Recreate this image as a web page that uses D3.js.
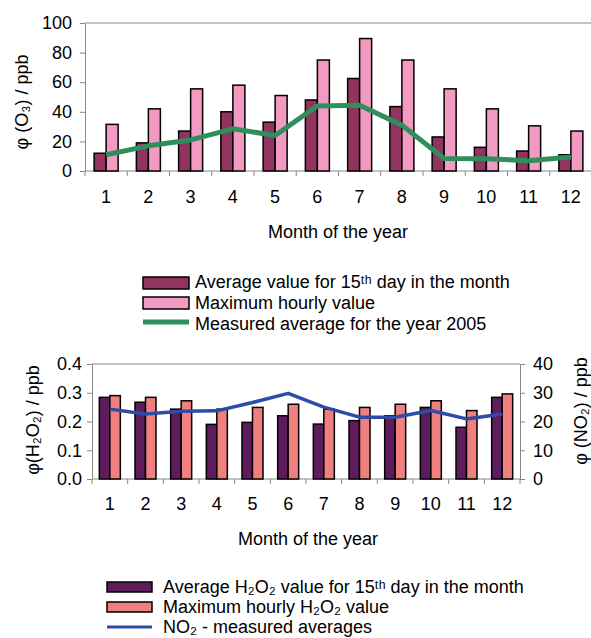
<!DOCTYPE html>
<html>
<head>
<meta charset="utf-8">
<script src="https://cdn.jsdelivr.net/npm/d3@7"></script>
<style>
  body { margin: 0; background: #fff; }
  svg { display: block; font-family: "Liberation Sans", Arial, sans-serif; }
  .tick text { font-size: 18px; fill: #000; }
  .domain, .tick line { stroke: #888; }
</style>
</head>
<body>
<svg id="chart" width="591" height="638"></svg>
<script>
// ── Data ─────────────────────────────────────────────────────────────────────
const months = [1, 2, 3, 4, 5, 6, 7, 8, 9, 10, 11, 12];

// Ozone (top panel)
const o3Avg15   = [12, 19, 27, 40, 33, 48, 62.5, 43.5, 23, 16, 13.5, 11];
const o3MaxHour = [31.5, 42, 55.5, 58, 51, 75, 89.5, 75, 55.5, 42, 30.5, 27];
const o3Year05  = [11, 17, 21, 28.5, 24, 44, 44.5, 31, 8.5, 8.3, 7, 9.5];
const o3Ticks   = [0, 20, 40, 60, 80, 100];

// H2O2 / NO2 (bottom panel)
const h2o2Avg15   = [0.284, 0.267, 0.243, 0.19, 0.197, 0.22, 0.191, 0.203, 0.22, 0.249, 0.18, 0.284];
const h2o2MaxHour = [0.29, 0.284, 0.272, 0.243, 0.249, 0.26, 0.243, 0.249, 0.26, 0.272, 0.238, 0.296];
const no2Avg      = [24.3, 22.6, 23.6, 23.7, 26.6, 29.8, 25, 21.5, 21.5, 23.8, 20.9, 22.6];
const h2o2Ticks   = [0, 0.1, 0.2, 0.3, 0.4];
const no2Ticks    = [0, 10, 20, 30, 40];

const C = {
  o3Avg: "#93335f", o3Max: "#f39ac3", o3Line: "#2e8f5d",
  hAvg: "#5e1c5f", hMax: "#f08080", no2: "#2f4ba6"
};
const FS = 18;

const svg = d3.select("#chart");

// ── Top panel: O3 ────────────────────────────────────────────────────────────
{
  const left = 85, right = 592, top = 23, bottom = 171;
  const x = d3.scaleBand().domain(months).range([left, right]);
  const bw = x.bandwidth();
  const xi = d3.scaleBand().domain(["avg", "max"]).range([bw / 2 - 12, bw / 2 + 12]);
  const y = d3.scaleLinear().domain([0, 100]).range([bottom, top]);
  const g = svg.append("g");

  // top border of plot area
  g.append("line").attr("x1", left).attr("x2", right).attr("y1", top).attr("y2", top)
    .attr("stroke", "#888");

  g.append("g").attr("transform", `translate(${left},0)`)
    .call(d3.axisLeft(y).tickValues(o3Ticks).tickSize(5).tickPadding(8).tickSizeOuter(0));

  // x axis with ticks between categories
  const xa = g.append("g").attr("transform", `translate(0,${bottom})`);
  xa.append("line").attr("x1", left).attr("x2", right).attr("stroke", "#888");
  xa.selectAll("line.tk").data(months).join("line").attr("class", "tk")
    .attr("x1", d => x(d)).attr("x2", d => x(d)).attr("y1", 0).attr("y2", 5).attr("stroke", "#888");
  xa.selectAll("text").data(months).join("text")
    .attr("x", d => x(d) + bw / 2).attr("y", 26).attr("text-anchor", "middle")
    .attr("dominant-baseline", "central").attr("font-size", FS).text(d => d);

  const mg = g.selectAll("g.m").data(months).join("g").attr("class", "m")
    .attr("transform", d => `translate(${x(d)},0)`);
  mg.append("rect").attr("x", xi("avg")).attr("width", xi.bandwidth())
    .attr("y", (d, i) => y(o3Avg15[i])).attr("height", (d, i) => bottom - y(o3Avg15[i]))
    .attr("fill", C.o3Avg).attr("stroke", "#000").attr("stroke-width", 1.5);
  mg.append("rect").attr("x", xi("max")).attr("width", xi.bandwidth())
    .attr("y", (d, i) => y(o3MaxHour[i])).attr("height", (d, i) => bottom - y(o3MaxHour[i]))
    .attr("fill", C.o3Max).attr("stroke", "#000").attr("stroke-width", 1.5);

  g.append("path").datum(o3Year05)
    .attr("fill", "none").attr("stroke", C.o3Line).attr("stroke-width", 5)
    .attr("stroke-linejoin", "round")
    .attr("d", d3.line().x((v, i) => x(months[i]) + bw / 2).y(v => y(v)));

  g.append("text").attr("x", 338).attr("y", 232).attr("text-anchor", "middle")
    .attr("dominant-baseline", "central").attr("font-size", FS).text("Month of the year");

  g.append("text").attr("transform", "translate(22,102) rotate(-90)")
    .attr("text-anchor", "middle").attr("dominant-baseline", "central").attr("font-size", FS)
    .text("φ (O₃) / ppb");

  // legend
  const lg = g.append("g").attr("transform", "translate(143,277)");
  lg.append("rect").attr("y", 0).attr("width", 46).attr("height", 12).attr("fill", C.o3Avg)
    .attr("stroke", "#000").attr("stroke-width", 1.5);
  lg.append("rect").attr("y", 20).attr("width", 46).attr("height", 12).attr("fill", C.o3Max)
    .attr("stroke", "#000").attr("stroke-width", 1.5);
  lg.append("line").attr("x1", 0).attr("x2", 46).attr("y1", 45).attr("y2", 45)
    .attr("stroke", C.o3Line).attr("stroke-width", 5);
  lg.append("text").attr("x", 52).attr("y", 5).attr("dominant-baseline", "central")
    .attr("font-size", FS).text("Average value for 15ᵗʰ day in the month");
  lg.append("text").attr("x", 52).attr("y", 26).attr("dominant-baseline", "central")
    .attr("font-size", FS).text("Maximum hourly value");
  lg.append("text").attr("x", 52).attr("y", 46.5).attr("dominant-baseline", "central")
    .attr("font-size", FS).text("Measured average for the year 2005");
}

// ── Bottom panel: H2O2 and NO2 ───────────────────────────────────────────────
{
  const left = 92, right = 520, top = 364, bottom = 479;
  const x = d3.scaleBand().domain(months).range([left, right]);
  const bw = x.bandwidth();
  const xi = d3.scaleBand().domain(["avg", "max"]).range([bw / 2 - 10.5, bw / 2 + 10.5]);
  const y = d3.scaleLinear().domain([0, 0.4]).range([bottom, top]);
  const y2 = d3.scaleLinear().domain([0, 40]).range([bottom, top]);
  const g = svg.append("g");

  g.append("line").attr("x1", left).attr("x2", right).attr("y1", top).attr("y2", top)
    .attr("stroke", "#888");

  g.append("g").attr("transform", `translate(${left},0)`)
    .call(d3.axisLeft(y).tickValues(h2o2Ticks).tickFormat(d3.format(".1f"))
      .tickSize(5).tickPadding(5).tickSizeOuter(0));
  g.append("g").attr("transform", `translate(${right},0)`)
    .call(d3.axisRight(y2).tickValues(no2Ticks).tickSize(5).tickPadding(8).tickSizeOuter(0));

  const xa = g.append("g").attr("transform", `translate(0,${bottom})`);
  xa.append("line").attr("x1", left).attr("x2", right).attr("stroke", "#888");
  xa.selectAll("line.tk").data(months.concat(["end"])).join("line").attr("class", "tk")
    .attr("x1", d => d === "end" ? right : x(d)).attr("x2", d => d === "end" ? right : x(d))
    .attr("y1", 0).attr("y2", 5).attr("stroke", "#888");
  xa.selectAll("text").data(months).join("text")
    .attr("x", d => x(d) + bw / 2).attr("y", 25).attr("text-anchor", "middle")
    .attr("dominant-baseline", "central").attr("font-size", FS).text(d => d);

  const mg = g.selectAll("g.m").data(months).join("g").attr("class", "m")
    .attr("transform", d => `translate(${x(d)},0)`);
  mg.append("rect").attr("x", xi("avg")).attr("width", xi.bandwidth())
    .attr("y", (d, i) => y(h2o2Avg15[i])).attr("height", (d, i) => bottom - y(h2o2Avg15[i]))
    .attr("fill", C.hAvg).attr("stroke", "#000").attr("stroke-width", 1.5);
  mg.append("rect").attr("x", xi("max")).attr("width", xi.bandwidth())
    .attr("y", (d, i) => y(h2o2MaxHour[i])).attr("height", (d, i) => bottom - y(h2o2MaxHour[i]))
    .attr("fill", C.hMax).attr("stroke", "#000").attr("stroke-width", 1.5);

  g.append("path").datum(no2Avg)
    .attr("fill", "none").attr("stroke", C.no2).attr("stroke-width", 3.5)
    .attr("stroke-linejoin", "round")
    .attr("d", d3.line().x((v, i) => x(months[i]) + bw / 2).y(v => y2(v)));

  g.append("text").attr("x", 308).attr("y", 539).attr("text-anchor", "middle")
    .attr("dominant-baseline", "central").attr("font-size", FS).text("Month of the year");

  g.append("text").attr("transform", "translate(33,420) rotate(-90)")
    .attr("text-anchor", "middle").attr("dominant-baseline", "central").attr("font-size", FS)
    .text("φ(H₂O₂) / ppb");

  g.append("text").attr("transform", "translate(581,411) rotate(-90)")
    .attr("text-anchor", "middle").attr("dominant-baseline", "central").attr("font-size", FS)
    .text("φ (NO₂) / ppb");

  // legend (last row sits right at the bottom edge, as in the original)
  const lg = g.append("g").attr("transform", "translate(107,582)");
  lg.append("rect").attr("width", 45).attr("height", 10).attr("fill", C.hAvg)
    .attr("stroke", "#000").attr("stroke-width", 1.5);
  lg.append("rect").attr("y", 20).attr("width", 45).attr("height", 10).attr("fill", C.hMax)
    .attr("stroke", "#000").attr("stroke-width", 1.5);
  lg.append("line").attr("x1", 0).attr("x2", 45).attr("y1", 45).attr("y2", 45)
    .attr("stroke", C.no2).attr("stroke-width", 3);
  lg.append("text").attr("x", 56).attr("y", 4.5).attr("dominant-baseline", "central")
    .attr("font-size", FS).text("Average H₂O₂ value for 15ᵗʰ day in the month");
  lg.append("text").attr("x", 56).attr("y", 24.5).attr("dominant-baseline", "central")
    .attr("font-size", FS).text("Maximum hourly H₂O₂ value");
  lg.append("text").attr("x", 56).attr("y", 44.5).attr("dominant-baseline", "central")
    .attr("font-size", FS).text("NO₂  -  measured averages");
}
</script>
</body>
</html>
